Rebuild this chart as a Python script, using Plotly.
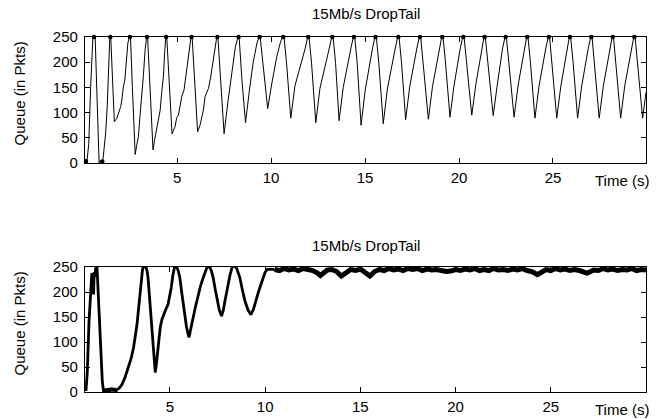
import plotly.graph_objects as go
from plotly.subplots import make_subplots

# top panel: queue trace (time s, queue pkts)
top_t = [0.10, 0.15, 0.20, 0.25, 0.30, 0.40, 0.52, 0.64, 0.72, 0.85, 0.92, 1.00, 1.06, 1.12, 1.20, 1.28, 1.35, 1.42, 1.47,
         1.55, 1.66, 1.79, 1.93, 2.00, 2.06, 2.10, 2.14, 2.22, 2.29, 2.38, 2.46, 2.52,
         2.62, 2.77, 2.85, 2.94, 3.03, 3.12, 3.21, 3.30, 3.38, 3.43,
         3.55, 3.72, 3.80, 3.91, 4.00, 4.10, 4.18, 4.27, 4.35, 4.40, 4.45,
         4.58, 4.73, 4.89, 4.98, 5.07, 5.16, 5.25, 5.37, 5.45, 5.51, 5.60, 5.69, 5.74, 5.80,
         5.95, 6.09, 6.22, 6.40, 6.49, 6.67, 6.79, 6.93, 7.02, 7.11, 7.17,
         7.33, 7.50, 7.70, 7.90, 8.10, 8.24, 8.30,
         8.45, 8.64, 8.85, 9.05, 9.25, 9.36, 9.42,
         9.60, 9.82, 10.05, 10.30, 10.50, 10.62, 10.69,
         10.82, 11.05, 11.27, 11.82, 11.95, 12.02,
         12.15, 12.38, 12.60, 13.10, 13.23, 13.30,
         13.43, 13.62, 13.84, 14.25, 14.38, 14.45,
         14.58, 14.79, 15.01, 15.40, 15.53, 15.60,
         15.73, 15.97, 16.19, 16.61, 16.74, 16.81,
         16.94, 17.16, 17.38, 17.76, 17.89, 17.96,
         18.09, 18.37, 18.59, 18.95, 19.08, 19.15,
         19.28, 19.52, 19.74, 20.07, 20.20, 20.27,
         20.40, 20.68, 20.90, 21.20, 21.33, 21.40,
         21.53, 21.82, 22.04, 22.32, 22.45, 22.52,
         22.65, 22.93, 23.15, 23.47, 23.60, 23.67,
         23.80, 24.04, 24.26, 24.62, 24.75, 24.82,
         24.95, 25.20, 25.42, 25.74, 25.87, 25.94,
         26.07, 26.31, 26.53, 26.88, 27.01, 27.08,
         27.21, 27.46, 27.68, 28.02, 28.15, 28.22,
         28.35, 28.60, 28.82, 29.17, 29.30, 29.37,
         29.50, 29.77, 29.95]
top_q = [0, 8, 2, 30, 38, 150, 250, 250, 150, 0, 5, 0, 8, 30, 60, 110, 198, 250, 250,
         180, 82, 88, 105, 112, 125, 140, 151, 165, 198, 238, 250, 250,
         150, 17, 35, 52, 95, 132, 175, 225, 250, 250,
         150, 26, 45, 68, 80, 105, 140, 171, 225, 250, 250,
         150, 58, 72, 90, 95, 118, 132, 145, 170, 185, 211, 238, 250, 250,
         160, 62, 75, 105, 132, 148, 171, 205, 228, 250, 250,
         160, 58, 120, 180, 230, 250, 250,
         165, 80, 145, 200, 238, 250, 250,
         180, 108, 160, 210, 240, 250, 250,
         200, 89, 153, 228, 250, 250,
         200, 80, 148, 228, 250, 250,
         200, 84, 150, 228, 250, 250,
         200, 75, 145, 228, 250, 250,
         200, 78, 147, 228, 250, 250,
         200, 86, 152, 228, 250, 250,
         200, 87, 152, 228, 250, 250,
         200, 91, 155, 228, 250, 250,
         200, 95, 157, 228, 250, 250,
         200, 94, 156, 228, 250, 250,
         200, 91, 155, 228, 250, 250,
         200, 89, 153, 228, 250, 250,
         200, 89, 153, 228, 250, 250,
         200, 89, 153, 228, 250, 250,
         200, 89, 153, 228, 250, 250,
         200, 89, 153, 228, 250, 250,
         200, 89, 140]

# dense sample clusters in the top panel (queue full / empty)
blob_t = [0.15, 0.58, 1.02, 1.45, 2.49, 3.40, 4.42, 5.77, 7.14, 8.27, 9.39, 10.65, 11.98, 13.26, 14.41,
          15.56, 16.77, 17.92, 19.11, 20.23, 21.36, 22.48, 23.63, 24.78, 25.90, 27.04, 28.18, 29.33]
blob_q = [3, 250, 3, 250, 250, 250, 250, 250, 250, 250, 250, 250, 250, 250, 250,
          250, 250, 250, 250, 250, 250, 250, 250, 250, 250, 250, 250, 250]

# bottom panel: start-up oscillations
bot_t = [0.59, 0.66, 0.75, 0.83, 0.87, 0.90, 0.93, 0.96, 0.99, 1.02, 1.06, 1.12, 1.17, 1.30, 1.45, 1.52,
         1.60, 1.68, 1.76, 1.84, 1.92, 2.00, 2.08, 2.16, 2.22, 2.35, 2.48, 2.65, 2.83, 2.97, 3.09, 3.18,
         3.27, 3.33, 3.39, 3.45, 3.50, 3.56, 3.62, 3.68, 3.74, 3.80, 3.85, 3.91, 3.97, 4.03, 4.09, 4.16,
         4.23, 4.30, 4.37, 4.43, 4.49, 4.58, 4.67, 4.78, 4.90, 4.98, 5.07, 5.15, 5.24, 5.30, 5.36, 5.44,
         5.52, 5.63, 5.75, 5.87, 6.00, 6.11, 6.22, 6.35, 6.49, 6.62, 6.75, 6.87, 6.95, 7.02, 7.10, 7.18,
         7.27, 7.38, 7.50, 7.60, 7.71, 7.80, 7.89, 7.97, 8.06, 8.16, 8.27, 8.38, 8.50, 8.58, 8.67, 8.80,
         8.94, 9.10, 9.25, 9.38, 9.50, 9.64, 9.78, 9.90, 9.99, 10.10, 10.25, 10.50]
bot_q = [2, 40, 140, 210, 228, 238, 200, 235, 195, 240, 230, 255, 250, 130, 20, 0,
         6, 0, 7, 1, 8, 2, 7, 1, 5, 8, 15, 30, 49, 68, 89, 110,
         135, 158, 182, 207, 229, 245, 252, 252, 250, 242, 229, 200, 169, 135, 102, 68,
         39, 60, 89, 112, 129, 145, 155, 165, 175, 190, 209, 232, 250, 252, 250, 242,
         229, 196, 162, 130, 109, 126, 149, 172, 195, 214, 229, 243, 250, 251, 249, 242,
         229, 205, 182, 163, 152, 163, 182, 200, 215, 235, 250, 252, 248, 240, 229, 205,
         182, 164, 155, 165, 182, 199, 215, 230, 239, 245, 246, 245]

# bottom panel: steady noisy plateau
plat_t = [10.50, 10.75, 11.00, 11.25, 11.50, 11.75, 12.00, 12.25, 12.50, 12.75, 12.90, 13.10, 13.25, 13.50,
          13.75, 14.00, 14.25, 14.50, 14.75, 15.00, 15.25, 15.50, 15.75, 16.00, 16.25, 16.50, 16.75, 17.00,
          17.25, 17.50, 17.75, 18.00, 18.25, 18.50, 18.75, 19.00, 19.25, 19.50, 19.75, 20.00, 20.25, 20.50,
          20.75, 21.00, 21.25, 21.50, 21.75, 22.00, 22.25, 22.50, 22.75, 23.00, 23.25, 23.50, 23.75, 24.00,
          24.30, 24.55, 24.75, 25.00, 25.25, 25.50, 25.75, 26.00, 26.25, 26.50, 26.75, 26.90, 27.10, 27.25,
          27.50, 27.75, 28.00, 28.25, 28.50, 28.75, 29.00, 29.25, 29.50, 29.75, 30.00]
plat_q = [245, 243, 247, 244, 246, 243, 247, 245, 243, 238, 233, 239, 244, 245,
          241, 232, 239, 245, 243, 246, 239, 232, 241, 245, 243, 247, 244, 246,
          243, 247, 245, 247, 243, 246, 244, 245, 243, 241, 242, 245, 243, 246,
          244, 247, 243, 245, 243, 247, 244, 245, 243, 246, 244, 247, 243, 241,
          235, 241, 245, 243, 247, 244, 246, 243, 245, 243, 240, 238, 241, 244,
          243, 247, 244, 246, 243, 245, 244, 247, 243, 245, 244]

y_ticks = [0, 50, 100, 150, 200, 250]
x_ticks = [5, 10, 15, 20, 25]
title = "15Mb/s DropTail"

fig = make_subplots(rows=2, cols=1)

fig.add_trace(go.Scatter(x=top_t, y=top_q, mode="lines", line=dict(color="black", width=1),
                         showlegend=False, hoverinfo="skip"), row=1, col=1)
fig.add_trace(go.Scatter(x=blob_t, y=blob_q, mode="markers", marker=dict(color="black", size=4.5),
                         cliponaxis=False, showlegend=False, hoverinfo="skip"), row=1, col=1)
fig.add_trace(go.Scatter(x=bot_t, y=bot_q, mode="lines", line=dict(color="black", width=2.8),
                         showlegend=False, hoverinfo="skip"), row=2, col=1)
fig.add_trace(go.Scatter(x=plat_t, y=plat_q, mode="lines", line=dict(color="black", width=5),
                         showlegend=False, hoverinfo="skip"), row=2, col=1)

font = dict(family="Liberation Sans, Arial, sans-serif", size=15, color="black")
axis_style = dict(showline=True, linecolor="black", linewidth=1.2, mirror="allticks",
                  ticks="inside", ticklen=5, tickwidth=1, tickcolor="black", automargin=False,
                  showgrid=False, zeroline=False, tickfont=font)

fig.update_xaxes(**axis_style, tickvals=x_ticks, ticklabelstandoff=1)
fig.update_yaxes(**axis_style, tickvals=y_ticks, range=[0, 250], ticklabelstandoff=3)
fig.update_xaxes(range=[0.1, 29.95], domain=[0, 1], row=1, col=1)
fig.update_xaxes(range=[0.54, 30.0], domain=[0, 1], row=2, col=1)
fig.update_yaxes(domain=[0.645, 1], row=1, col=1)
fig.update_yaxes(domain=[0, 0.352], row=2, col=1)

ann = []
for ytitle, ytime, ylab in [(1.065, 0.597, 0.841), (0.414, -0.048, 0.193)]:
    ann.append(dict(text=title, x=0.5, y=ytitle, xref="paper", yref="paper",
                    showarrow=False, font=font, xanchor="center", yanchor="middle"))
    ann.append(dict(text="Time (s)", x=0.957, y=ytime, xref="paper", yref="paper",
                    showarrow=False, font=font, xanchor="center", yanchor="middle"))
    ann.append(dict(text="Queue (in Pkts)", x=-0.1176, y=ylab, xref="paper", yref="paper",
                    showarrow=False, font=font, textangle=-90, xanchor="center", yanchor="middle"))

fig.update_layout(width=660, height=419, margin=dict(l=85, r=14, t=37, b=27),
                  paper_bgcolor="white", plot_bgcolor="white", font=font, annotations=ann)

fig.write_html("out.html", config={"displayModeBar": False},
               post_script="document.body.style.margin='0';document.body.style.overflow='hidden';")
